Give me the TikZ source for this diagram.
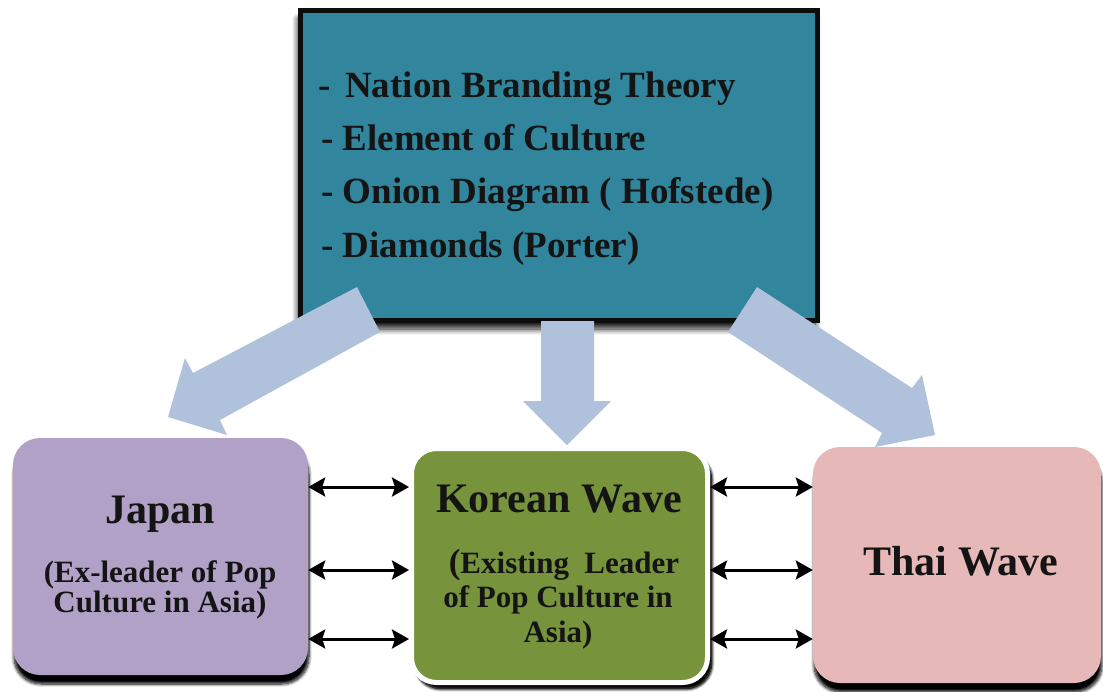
\documentclass[tikz,border=0pt]{standalone}
\usepackage{fontspec}
\setmainfont{Liberation Serif}
\usetikzlibrary{arrows.meta,shadows.blur}

\definecolor{teal}{HTML}{31859C}
\definecolor{fatarrow}{HTML}{B0C1DC}
\definecolor{japanfill}{HTML}{B2A1C7}
\definecolor{koreafill}{HTML}{77933C}
\definecolor{thaifill}{HTML}{E6B9B8}

\tikzset{
  theorybox/.style={rectangle, fill=teal, draw=black!95, line width=5pt,
    minimum width=517pt, minimum height=310pt, inner sep=0pt,
    blur shadow={shadow xshift=-2pt, shadow yshift=-9pt, shadow blur radius=6pt,
      shadow blur steps=10, shadow opacity=90}},
  countrybox/.style={rectangle, rounded corners=27pt, inner sep=0pt,
    blur shadow={shadow xshift=1pt, shadow yshift=-9pt, shadow blur radius=3pt,
      shadow blur steps=8, shadow opacity=100}},
  bigtext/.style={font=\fontsize{37}{44}\selectfont\bfseries, text=black!92, inner sep=0pt, anchor=base west},
  headtext/.style={font=\fontsize{42}{48}\selectfont\bfseries, text=black!92, inner sep=0pt, anchor=base},
  subtext/.style={font=\fontsize{31}{36}\selectfont\bfseries, text=black!92, inner sep=0pt, anchor=base},
  fat/.style={fill=fatarrow, draw=none},
  link/.style={line width=3pt, {Stealth[length=17pt,width=19pt,inset=3pt]}-{Stealth[length=17pt,width=19pt,inset=3pt]}}
}

\begin{document}
\begin{tikzpicture}[x=1pt, y=-1pt]
\useasboundingbox (0,0) rectangle (1103,691);

% theory box
\node[theorybox] (theory) at (558.5,165) {};
\node[bigtext] (t1) at (318,97) {-\hspace{5.5pt} Nation Branding Theory};
\node[bigtext] (t2) at (321,150) {- Element of Culture};
\node[bigtext] (t3) at (321,203) {- Onion Diagram ( Hofstede)};
\node[bigtext] (t4) at (321,257) {- Diamonds (Porter)};

% block arrows from the theory box
\path[fat] (357,287) -- (193,373) -- (185,358) -- (168,417) -- (227,435) -- (220,420) -- (380,332) -- cycle;
\path[fat] (541,321) -- (541,401) -- (523,401) -- (567,445) -- (611,401) -- (594,401) -- (594,321) -- cycle;
\path[fat] (757,287) -- (912,388) -- (922,375) -- (935,435) -- (875,447) -- (882,433) -- (728,332) -- cycle;

% country boxes
\node[countrybox, fill=japanfill, minimum width=295pt, minimum height=237pt] (japan) at (160.5,556.5) {};
\node[countrybox, fill=koreafill, draw=white, line width=5pt, rounded corners=25pt,
  minimum width=296pt, minimum height=234pt,
  blur shadow={shadow xshift=4pt, shadow yshift=-6pt, shadow blur radius=3pt, shadow opacity=100}]
  (korea) at (559.5,565.5) {};
\node[countrybox, fill=thaifill, minimum width=288pt, minimum height=236pt] (thai) at (957,565) {};

% labels
\node[headtext] (jp1) at (160,523) {Japan};
\node[subtext] (jp2) at (160,582) {(Ex-leader of Pop};
\node[subtext] (jp3) at (160,612) {Culture in Asia)};

\node[headtext] (kr1) at (559,512) {Korean Wave};
\node[subtext] (kr2) at (564,573) {{\fontsize{35}{36}\selectfont (}Existing\ \ Leader};
\node[subtext] (kr3) at (558,607) {of Pop Culture in};
\node[subtext] (kr4) at (558,642) {Asia)};

\node[headtext] (th1) at (961,575) {Thai Wave};

% two-way links between neighbouring boxes
\foreach \yy in {487,570,639}{
  \draw[link] (japan.east |- 0,\yy) -- (korea.west |- 0,\yy);
  \draw[link] (korea.east |- 0,\yy) -- (thai.west |- 0,\yy);
}
\end{tikzpicture}
\end{document}
